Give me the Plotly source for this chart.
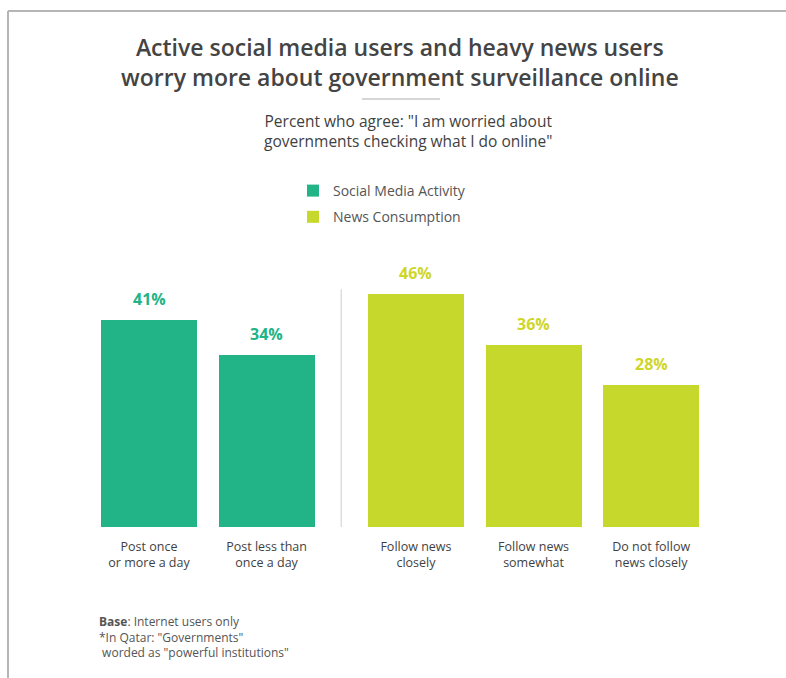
import plotly.graph_objects as go

# ---- data ----
social_labels = ["Post once<br>or more a day", "Post less than<br>once a day"]
social_values = [41, 34]
news_labels = ["Follow news<br>closely", "Follow news<br>somewhat", "Do not follow<br>news closely"]
news_values = [46, 36, 28]

W, H = 786, 678
TEAL = "#22b487"
LIME = "#c6d82b"
LIME_TEXT = "#cfd62a"
DARK = "#3f3f3f"
FONT = "Open Sans"

def px_x(p):
    return p / W

def px_y(p):
    return 1 - p / H

# bar slots: one unit per bar, extra space between the two groups
GROUP_GAP = 0.27
social_x = [i for i in range(len(social_values))]
news_x = [len(social_values) + GROUP_GAP + i for i in range(len(news_values))]

fig = go.Figure()
fig.add_trace(go.Bar(
    x=social_x, y=social_values, name="Social Media Activity",
    marker=dict(color=TEAL, line=dict(width=0)), width=0.816,
    legendgroup="a",
))
fig.add_trace(go.Bar(
    x=news_x, y=news_values, name="News Consumption",
    marker=dict(color=LIME, line=dict(width=0)), width=0.816,
    legendgroup="b",
))

annotations = []
# value labels above each bar
for xs, vs, col in [(social_x, social_values, TEAL), (news_x, news_values, LIME_TEXT)]:
    for x, v in zip(xs, vs):
        annotations.append(dict(
            x=x, y=v, xref="x", yref="y", text=f"<b>{v}%</b>",
            showarrow=False, yanchor="bottom", yshift=8,
            font=dict(family=FONT, size=16, color=col),
        ))

# title, subtitle and notes
annotations += [
    dict(x=px_x(400), y=px_y(62), xref="paper", yref="paper",
         text="Active social media users and heavy news users<br>worry more about government surveillance online",
         showarrow=False, xanchor="center", yanchor="middle",
         font=dict(family=FONT, size=23, color="#444444", weight=600)),
    dict(x=px_x(408), y=px_y(131), xref="paper", yref="paper",
         text="Percent who agree: \"I am worried about<br>governments checking what I do online\"",
         showarrow=False, xanchor="center", yanchor="middle",
         font=dict(family=FONT, size=15.5, color=DARK)),
    dict(x=px_x(97), y=px_y(611), xref="paper", yref="paper", align="left",
         text="<b>Base</b>: Internet users only<br>*In Qatar: \"Governments\"<br> worded as \"powerful institutions\"",
         showarrow=False, xanchor="left", yanchor="top",
         font=dict(family=FONT, size=12, color="#555555")),
]

mid = (social_x[-1] + news_x[0]) / 2
shapes = [
    # page frame (top and left edges)
    dict(type="line", xref="paper", yref="paper", x0=px_x(8), x1=1, y0=px_y(11), y1=px_y(11),
         line=dict(color="#b5b5b5", width=2)),
    dict(type="line", xref="paper", yref="paper", x0=px_x(8), x1=px_x(8), y0=px_y(11), y1=0,
         line=dict(color="#b5b5b5", width=2)),
    # short rule under the title
    dict(type="line", xref="paper", yref="paper", x0=px_x(362), x1=px_x(440), y0=px_y(99), y1=px_y(99),
         line=dict(color="#c8c8c8", width=1.5)),
    # divider between the two groups
    dict(type="line", xref="x", yref="y", x0=mid, x1=mid, y0=0, y1=47,
         line=dict(color="#dddddd", width=1.5)),
]

tickvals = social_x + news_x
ticktext = social_labels + news_labels

fig.update_layout(
    width=W, height=H,
    margin=dict(l=0, r=0, t=0, b=0),
    paper_bgcolor="white", plot_bgcolor="white",
    showlegend=True,
    legend=dict(x=px_x(293), y=px_y(175), xanchor="left", yanchor="top",
                font=dict(family=FONT, size=14, color="#555555"),
                traceorder="grouped", tracegroupgap=5,
                bgcolor="rgba(0,0,0,0)"),
    xaxis=dict(domain=[0, 1], range=[-149 / 117.6, (W - 149) / 117.6],
               tickvals=tickvals, ticktext=ticktext,
               ticks="outside", ticklen=8, tickcolor="rgba(0,0,0,0)",
               tickfont=dict(family=FONT, size=12.5, color=DARK),
               showgrid=False, zeroline=False, showline=False, fixedrange=True),
    yaxis=dict(domain=[px_y(527), px_y(250)], range=[0, (527 - 250) / 5.06],
               visible=False, showgrid=False, zeroline=False, fixedrange=True),
    annotations=annotations,
    shapes=shapes,
    bargap=0,
)

fig.write_html("out.html")
